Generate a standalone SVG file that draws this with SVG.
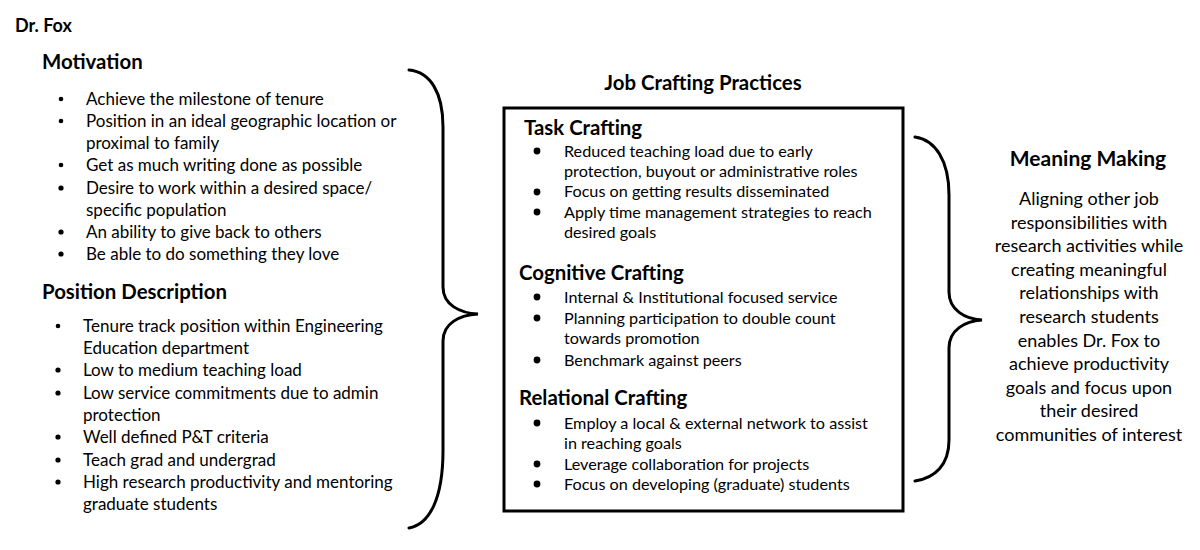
<svg xmlns="http://www.w3.org/2000/svg" width="1200" height="550" viewBox="0 0 1200 550">
<style>
text{font-family:Lato,"Open Sans","Liberation Sans",sans-serif;fill:#000}
.h{font-weight:bold;font-size:20.4px}
.t{font-size:17px}
.b{font-size:16.2px}
.m{font-size:18px;text-anchor:middle}
.brace{fill:none;stroke:#000;stroke-width:3;stroke-linecap:round}
.box{fill:#fff;stroke:#000;stroke-width:3}
</style>
<rect width="1200" height="550" fill="#fff"/>
<g id="title"><text x="15" y="32" class="h" style="font-size:18px">Dr. Fox</text></g>
<g id="motivation">
<text x="42" y="69" class="h">Motivation</text>
<g fill="#000"><circle cx="61" cy="99" r="2.3"/><circle cx="61" cy="121" r="2.3"/><circle cx="61" cy="165" r="2.3"/><circle cx="61" cy="188" r="2.6"/><circle cx="61" cy="232" r="2.6"/><circle cx="61" cy="254" r="2.6"/></g>
<text x="86" y="105" class="t">Achieve the milestone of tenure</text>
<text x="86" y="127" class="t">Position in an ideal geographic location or</text>
<text x="86" y="149" class="t">proximal to family</text>
<text x="86" y="171" class="t">Get as much writing done as possible</text>
<text x="86" y="194" class="t">Desire to work within a desired space/</text>
<text x="86" y="216" class="t">specific population</text>
<text x="86" y="238" class="t">An ability to give back to others</text>
<text x="86" y="260" class="t">Be able to do something they love</text>
</g>
<g id="position">
<text x="42" y="299" class="h">Position Description</text>
<g fill="#000"><circle cx="58" cy="326" r="2.3"/><circle cx="58" cy="370" r="2.6"/><circle cx="58" cy="393" r="2.6"/><circle cx="58" cy="437" r="2.6"/><circle cx="58" cy="460" r="2.6"/><circle cx="58" cy="482" r="2.6"/></g>
<text x="83" y="332" class="t">Tenure track position within Engineering</text>
<text x="83" y="354" class="t">Education department</text>
<text x="83" y="376" class="t">Low to medium teaching load</text>
<text x="83" y="399" class="t">Low service commitments due to admin</text>
<text x="83" y="421" class="t">protection</text>
<text x="83" y="443" class="t">Well defined P&amp;T criteria</text>
<text x="83" y="466" class="t">Teach grad and undergrad</text>
<text x="83" y="488" class="t">High research productivity and mentoring</text>
<text x="83" y="510" class="t">graduate students</text>
</g>
<g id="connectors">
<path class="brace" d="M409,70 C430,72 443,92 443,127 L443,287 C443,305 460,313 478,314 C460,315 443,323 443,341 L443,450 C443,498 430,524 409,528"/>
<path class="brace" d="M915,137 C935,140 949,160 949,195 L949,292 C949,310 965,319 982,320 C965,321 949,330 949,348 L949,440 C949,465 935,478 915,481"/>
</g>
<g id="job-crafting">
<text x="703" y="90" class="h" text-anchor="middle">Job Crafting Practices</text>
<rect class="box" x="504" y="108" width="399" height="403"/>
<text x="524" y="135" class="h">Task Crafting</text>
<text x="519" y="280" class="h">Cognitive Crafting</text>
<text x="519" y="405" class="h">Relational Crafting</text>
<g fill="#000"><circle cx="537" cy="151" r="3.4"/><circle cx="537" cy="192" r="3.4"/><circle cx="537" cy="212" r="3.4"/><circle cx="537" cy="297" r="3.4"/><circle cx="537" cy="318" r="3.4"/><circle cx="537" cy="360" r="3.4"/><circle cx="537" cy="423" r="3.4"/><circle cx="537" cy="464" r="3.4"/><circle cx="537" cy="484" r="3.4"/></g>
<text x="564" y="157" class="b">Reduced teaching load due to early</text>
<text x="564" y="177" class="b">protection, buyout or administrative roles</text>
<text x="564" y="197" class="b">Focus on getting results disseminated</text>
<text x="564" y="218" class="b">Apply time management strategies to reach</text>
<text x="564" y="238" class="b">desired goals</text>
<text x="564" y="303" class="b">Internal &amp; Institutional focused service</text>
<text x="564" y="324" class="b">Planning participation to double count</text>
<text x="564" y="344" class="b">towards promotion</text>
<text x="564" y="366" class="b">Benchmark against peers</text>
<text x="564" y="429" class="b">Employ a local &amp; external network to assist</text>
<text x="564" y="449" class="b">in reaching goals</text>
<text x="564" y="470" class="b">Leverage collaboration for projects</text>
<text x="564" y="490" class="b">Focus on developing (graduate) students</text>
</g>
<g id="meaning-making">
<text x="1088" y="166" class="h" text-anchor="middle" style="font-size:21px">Meaning Making</text>
<text x="1089" y="205" class="m">Aligning other job</text>
<text x="1089" y="228.6" class="m">responsibilities with</text>
<text x="1089" y="252.2" class="m">research activities while</text>
<text x="1089" y="275.8" class="m">creating meaningful</text>
<text x="1089" y="299.4" class="m">relationships with</text>
<text x="1089" y="323" class="m">research students</text>
<text x="1089" y="346.6" class="m">enables Dr. Fox to</text>
<text x="1089" y="370.2" class="m">achieve productivity</text>
<text x="1089" y="393.8" class="m">goals and focus upon</text>
<text x="1089" y="417.4" class="m">their desired</text>
<text x="1089" y="441" class="m">communities of interest</text>
</g>
</svg>
